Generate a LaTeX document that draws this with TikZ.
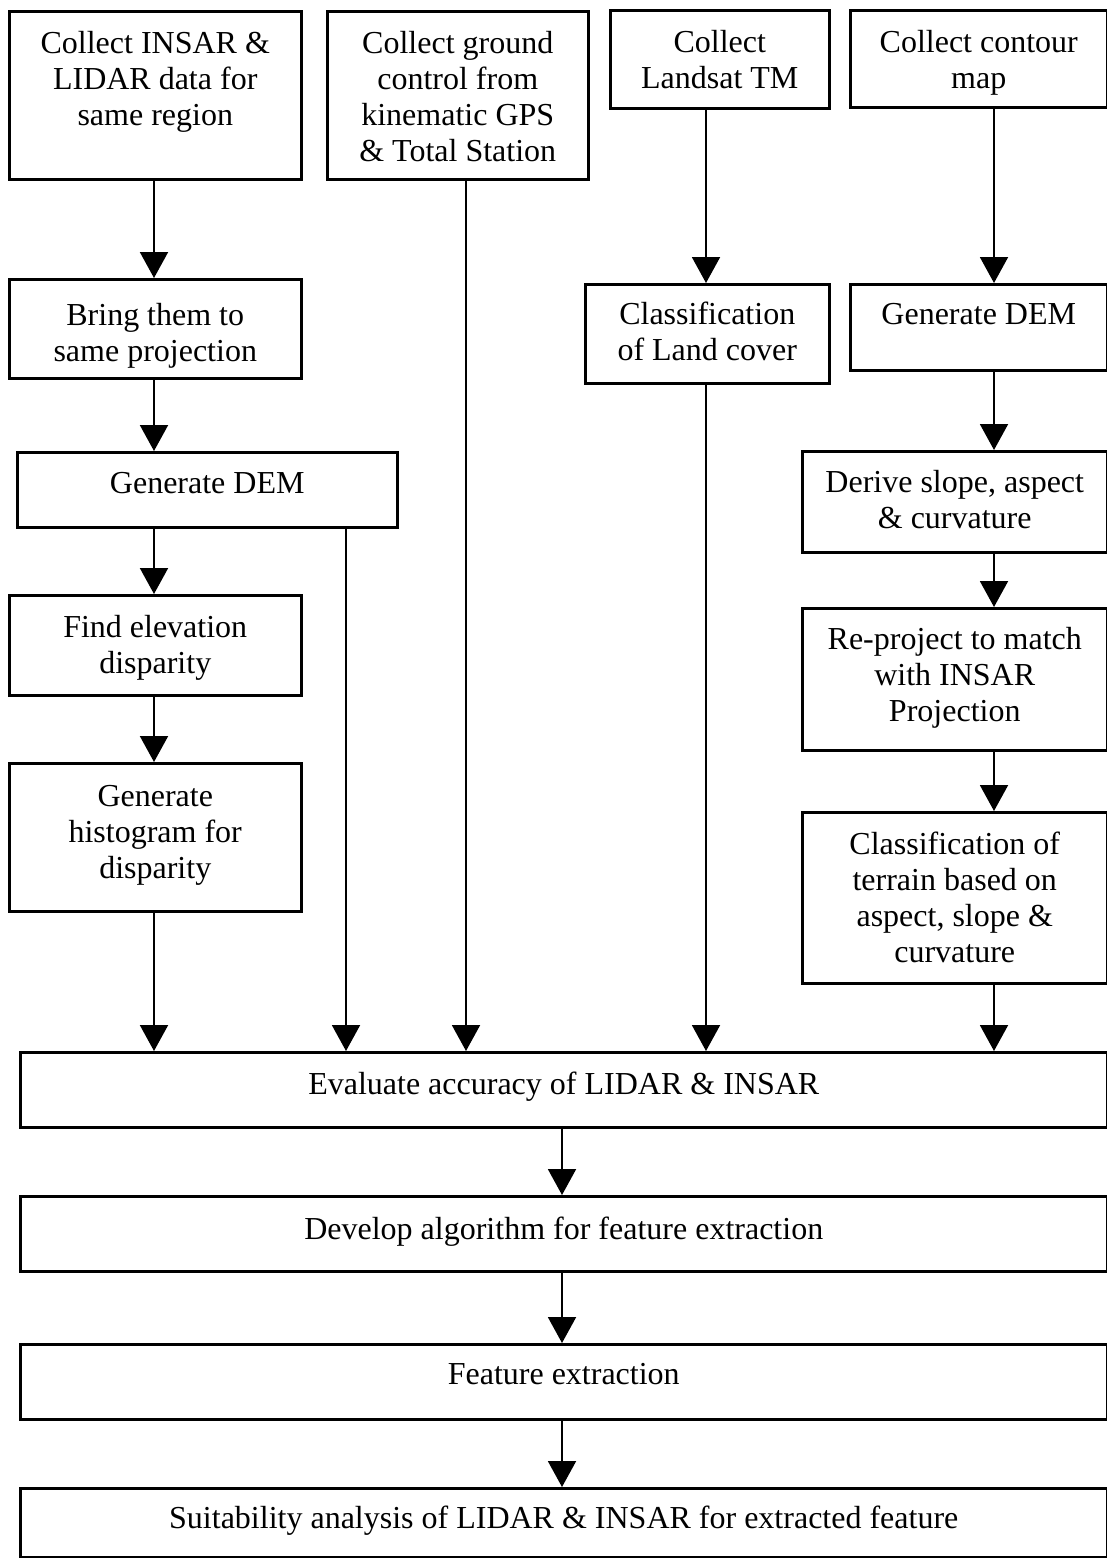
\documentclass[tikz,border=0pt]{standalone}
\usepackage{fontspec}
\setmainfont{Liberation Serif}
\usetikzlibrary{arrows.meta}
\newcommand{\boxtext}[2]{\parbox[t]{#1pt}{\centering #2}}
\begin{document}
\begin{tikzpicture}[x=1pt,y=-1pt,
  fbox/.style={draw, line width=2.5pt, inner sep=0pt, anchor=north west, font=\fontsize{32}{36}\selectfont},
  arr/.style={line width=2pt, -{Triangle[length=26pt,width=28pt]}}]
\useasboundingbox (0,0) rectangle (1107,1558);

% top row
\node[fbox, text height=42pt, text depth=126pt] (c1) at (8,10) {\boxtext{292}{Collect INSAR \&\\LIDAR data for\\same region}};
\node[fbox, text height=42pt, text depth=126pt] (ground) at (326,10) {\boxtext{261}{Collect ground\\control from\\kinematic GPS\\\& Total Station}};
\node[fbox, text height=42pt, text depth=56pt] (landsat) at (609,9) {\boxtext{219}{Collect\\Landsat TM}};
\node[fbox, text height=42pt, text depth=55pt] (contour) at (849,9) {\boxtext{257}{Collect contour\\map}};

% second row
\node[fbox, text height=46pt, text depth=53pt] (bring) at (8,278) {\boxtext{292}{Bring them to\\same projection}};
\node[fbox, text height=40pt, text depth=59pt] (landcover) at (584,283) {\boxtext{244}{Classification\\of Land cover}};
\node[fbox, text height=40pt, text depth=46pt] (dem2) at (849,283) {\boxtext{257}{Generate DEM}};

% middle
\node[fbox, text height=41pt, text depth=34pt] (dem1) at (16,451) {\boxtext{380}{Generate DEM}};
\node[fbox, text height=41pt, text depth=60pt] (derive) at (801,450) {\boxtext{305}{Derive slope, aspect\\\& curvature}};
\node[fbox, text height=42pt, text depth=58pt] (find) at (8,594) {\boxtext{292}{Find elevation\\disparity}};
\node[fbox, text height=41pt, text depth=101pt] (reproj) at (801,607) {\boxtext{305}{Re-project to match\\with INSAR\\Projection}};
\node[fbox, text height=43pt, text depth=105pt] (hist) at (8,762) {\boxtext{292}{Generate\\histogram for\\disparity}};
\node[fbox, text height=42pt, text depth=129pt] (terrain) at (801,811) {\boxtext{305}{Classification of\\terrain based on\\aspect, slope \&\\curvature}};

% bottom wide boxes
\node[fbox, text height=42pt, text depth=33pt] (eval) at (19,1051) {\boxtext{1087}{Evaluate accuracy of LIDAR \& INSAR}};
\node[fbox, text height=43pt, text depth=32pt] (develop) at (19,1195) {\boxtext{1087}{Develop algorithm for feature extraction}};
\node[fbox, text height=40pt, text depth=35pt] (feature) at (19,1343) {\boxtext{1087}{Feature extraction}};
\node[fbox, text height=40pt, text depth=29pt] (suit) at (19,1487) {\boxtext{1087}{Suitability analysis of LIDAR \& INSAR for extracted feature}};

% connector columns
\coordinate (xA) at (154,0);
\coordinate (xB) at (346,0);
\coordinate (xC) at (466,0);
\coordinate (xD) at (706,0);
\coordinate (xE) at (994,0);
\coordinate (xF) at (562,0);

% connectors
\draw[arr] (c1.south -| xA) -- (bring.north -| xA);
\draw[arr] (bring.south -| xA) -- (dem1.north -| xA);
\draw[arr] (dem1.south -| xA) -- (find.north -| xA);
\draw[arr] (find.south -| xA) -- (hist.north -| xA);
\draw[arr] (hist.south -| xA) -- (eval.north -| xA);
\draw[arr] (dem1.south -| xB) -- (eval.north -| xB);
\draw[arr] (ground.south -| xC) -- (eval.north -| xC);
\draw[arr] (landsat.south -| xD) -- (landcover.north -| xD);
\draw[arr] (landcover.south -| xD) -- (eval.north -| xD);
\draw[arr] (contour.south -| xE) -- (dem2.north -| xE);
\draw[arr] (dem2.south -| xE) -- (derive.north -| xE);
\draw[arr] (derive.south -| xE) -- (reproj.north -| xE);
\draw[arr] (reproj.south -| xE) -- (terrain.north -| xE);
\draw[arr] (terrain.south -| xE) -- (eval.north -| xE);
\draw[arr] (eval.south -| xF) -- (develop.north -| xF);
\draw[arr] (develop.south -| xF) -- (feature.north -| xF);
\draw[arr] (feature.south -| xF) -- (suit.north -| xF);
\end{tikzpicture}
\end{document}
